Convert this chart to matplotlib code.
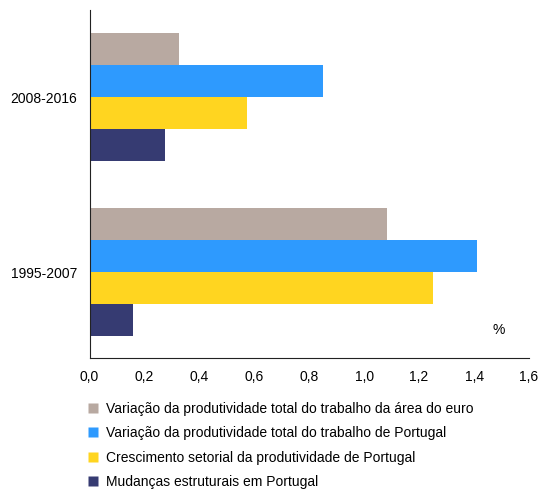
import matplotlib
matplotlib.use("Agg")
import matplotlib.pyplot as plt
from matplotlib.lines import Line2D
import numpy as np

plt.rcParams['font.family'] = ['Liberation Sans', 'DejaVu Sans']

periods = ["1995-2007", "2008-2016"]
series_names = [
    "Variação da produtividade total do trabalho da área do euro",
    "Variação da produtividade total do trabalho de Portugal",
    "Crescimento setorial da produtividade de Portugal",
    "Mudanças estruturais em Portugal",
]
euro_area = [1.083, 0.327]
portugal_total = [1.411, 0.849]
sectoral = [1.250, 0.572]
structural = [0.160, 0.276]
colors = ["#B8A9A1", "#2E9AFE", "#FFD520", "#363B72"]
xticks = [0.0, 0.2, 0.4, 0.6, 0.8, 1.0, 1.2, 1.4, 1.6]

values = [euro_area, portugal_total, sectoral, structural]

FS = 10
fig = plt.figure(figsize=(5.39, 4.93), dpi=100)
ax = fig.add_axes([89.5/539, 1-358/493, 439.5/539, 348/493])

h = 0.183
y = np.arange(len(periods))
for i, (vals, c) in enumerate(zip(values, colors)):
    offs = (1.5 - i) * h
    ax.barh(y + offs, vals, height=h, color=c, edgecolor='none')

ax.set_xlim(0, 1.6)
ax.set_ylim(-0.49, 1.497)
ax.set_yticks(y)
ax.set_yticklabels(periods, fontsize=FS)
ax.set_xticks(xticks)
ax.set_xticklabels([f"{t:.1f}".replace('.', ',') for t in xticks], fontsize=FS)
ax.tick_params(axis='both', length=0)
ax.tick_params(axis='x', pad=8.5)
ax.tick_params(axis='y', pad=9)
for s in ['top', 'right']:
    ax.spines[s].set_visible(False)
ax.spines['left'].set_color('#222222')
ax.spines['bottom'].set_color('#222222')
ax.text(1.49, -0.33, "%", fontsize=FS, ha='center', va='center')

handles = [Line2D([], [], marker='s', linestyle='none', markersize=6.5,
                  markerfacecolor=c, markeredgecolor='none') for c in colors]
fig.legend(handles, series_names, loc='upper left',
           bbox_to_anchor=(87/539, 1-402/493), frameon=False, fontsize=FS,
           handlelength=0.8, handletextpad=0.55, labelspacing=0.74,
           borderaxespad=0, borderpad=0)

fig.savefig("out.png", dpi=100)
